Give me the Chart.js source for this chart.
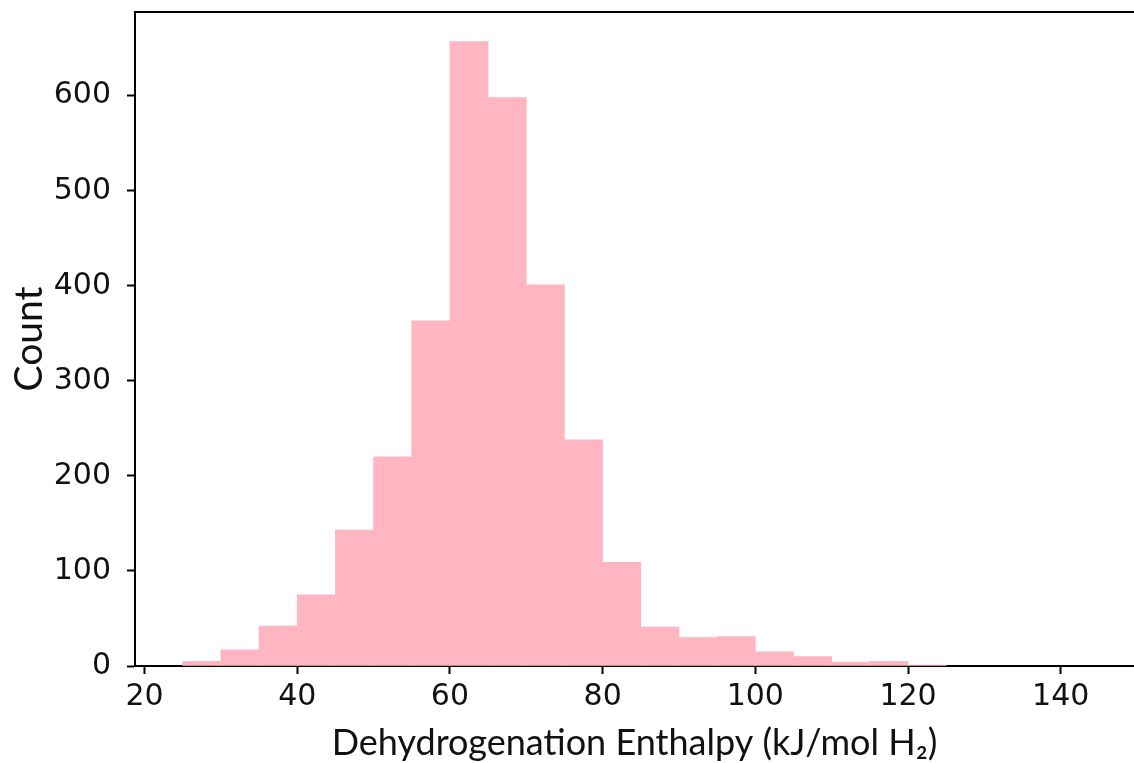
<!DOCTYPE html>
<html>
<head>
<meta charset="utf-8">
<script src="https://cdn.jsdelivr.net/npm/chart.js@4"></script>
<style>
  html, body { margin: 0; padding: 0; background: #fff; }
  #wrap { width: 1134px; height: 763px; }
</style>
</head>
<body>
<div id="wrap"><canvas id="c" width="1134" height="763"></canvas></div>
<script>
// Histogram bins (left edges, kJ/mol H2) and counts
const binLeft = [25, 30, 35, 40, 45, 50, 55, 60, 65, 70, 75, 80, 85, 90, 95, 100, 105, 110, 115, 120];
const binWidth = 5;
const counts  = [5, 17, 42, 75, 143, 220, 363, 657, 598, 401, 238, 109, 41, 30, 31, 15, 10, 4, 5, 1];
const xTickStep = 20;
const yTickStep = 100;
const xTitle = 'Dehydrogenation Enthalpy (kJ/mol H\u2082)';
const yTitle = 'Count';

const points = binLeft.map((b, i) => ({ x: b + binWidth / 2, y: counts[i] }));

const topBorder = {
  id: 'topBorder',
  afterDraw(chart) {
    const { ctx, chartArea } = chart;
    ctx.save();
    ctx.strokeStyle = '#000';
    ctx.lineWidth = 2;
    ctx.beginPath();
    ctx.moveTo(chartArea.left - 1, chartArea.top);
    ctx.lineTo(chartArea.right, chartArea.top);
    ctx.stroke();
    ctx.restore();
  }
};

new Chart(document.getElementById('c'), {
  type: 'bar',
  data: {
    datasets: [{
      data: points,
      backgroundColor: '#FFB6C1',
      borderColor: '#FFB6C1',
      borderWidth: 0,
      barPercentage: 1,
      categoryPercentage: 1
    }]
  },
  options: {
    responsive: false,
    animation: false,
    devicePixelRatio: 1,
    layout: { padding: { top: 12, right: 0, left: 0, bottom: 0 } },
    plugins: { legend: { display: false }, tooltip: { enabled: false } },
    scales: {
      x: {
        type: 'linear',
        offset: false,
        min: 18.75,
        max: 149.6,
        grid: { display: true, offset: false, drawOnChartArea: false, drawTicks: true, tickLength: 8, tickWidth: 2, tickColor: '#000' },
        border: { display: true, color: '#000', width: 2 },
        ticks: { stepSize: xTickStep, includeBounds: false, color: '#111', font: { family: "'DejaVu Sans', sans-serif", size: 30 }, padding: 5, maxRotation: 0, autoSkip: false },
        title: { display: true, text: xTitle, color: '#111', font: { family: "Lato, sans-serif", size: 36 }, padding: { top: 0, bottom: -2 } },
        afterFit(scale) { scale.height = 97; scale.paddingLeft = 0; scale.paddingRight = 0; }
      },
      y: {
        type: 'linear',
        min: 0,
        max: 688,
        grid: { display: true, drawOnChartArea: false, drawTicks: true, tickLength: 8, tickWidth: 2, tickColor: '#000' },
        border: { display: true, color: '#000', width: 2 },
        ticks: { stepSize: yTickStep, includeBounds: false, color: '#111', font: { family: "'DejaVu Sans', sans-serif", size: 30 }, padding: 16, autoSkip: false },
        title: { display: true, text: yTitle, color: '#111', font: { family: "Lato, sans-serif", size: 39 }, padding: { top: 6, bottom: 0 } },
        afterFit(scale) { scale.width = 135; scale.paddingTop = 0; scale.paddingBottom = 0; }
      }
    }
  },
  plugins: [topBorder]
});
</script>
</body>
</html>
